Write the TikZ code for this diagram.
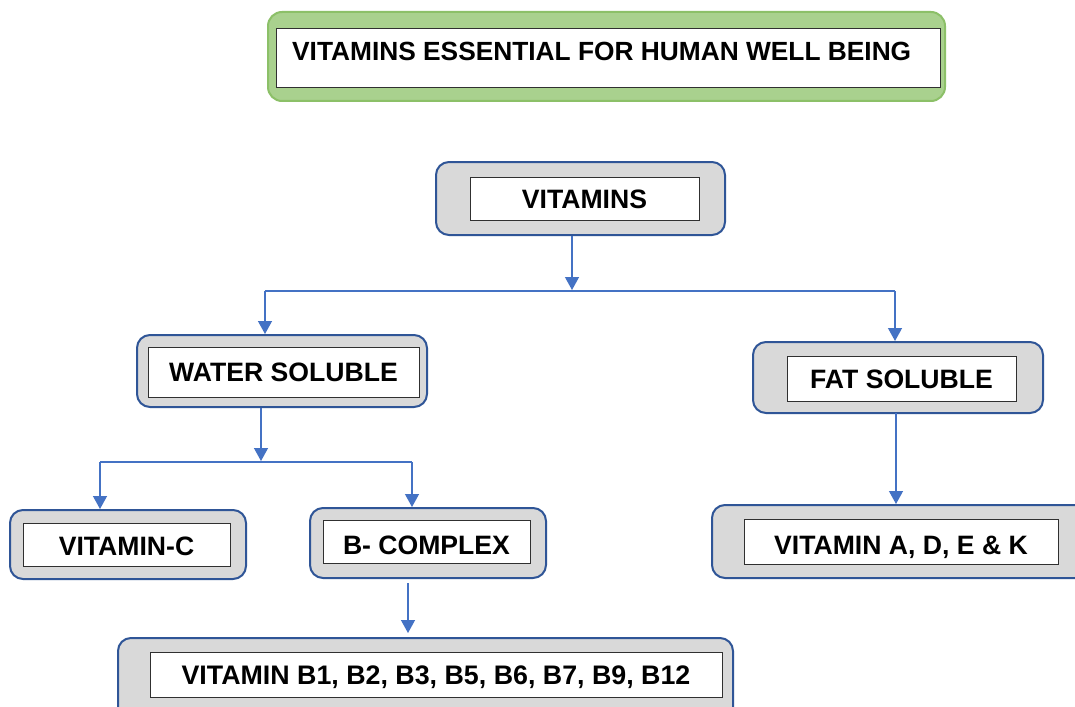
\documentclass[tikz,border=0pt]{standalone}
\usepackage{fontspec}
\setmainfont{Liberation Sans}
\usetikzlibrary{arrows.meta,calc}

\definecolor{boxgray}{HTML}{D9D9D9}
\definecolor{boxblue}{HTML}{2F5597}
\definecolor{linkblue}{HTML}{4472C4}
\definecolor{headgreen}{HTML}{A9D18E}
\definecolor{headedge}{HTML}{8CC068}
\definecolor{inneredge}{HTML}{303030}

\tikzset{
  outerbox/.style={draw=boxblue, line width=2pt, fill=boxgray, rounded corners=13pt, inner sep=0pt},
  headbox/.style={draw=headedge, line width=2pt, fill=headgreen, rounded corners=14pt, inner sep=0pt},
  innerbox/.style={draw=inneredge, line width=1pt, fill=white, inner sep=0pt},
  lbl/.style={font=\fontsize{26.6}{30}\selectfont\bfseries, text=black, text height=19pt, text depth=0pt},
  lowlbl/.style={text height=25pt, text depth=0pt},
  link/.style={draw=linkblue, line width=1.3pt},
  linkarrow/.style={link, -{Triangle[width=14pt,length=13pt]}},
}

\begin{document}
\begin{tikzpicture}[x=1pt,y=-1pt]
\clip (0,0) rectangle (1075,706);
\fill[white] (0,0) rectangle (1075,706);

% heading
\node[headbox, minimum width=677pt, minimum height=89pt] (headO) at (606.5,56.5) {};
\node[innerbox, minimum width=664pt, minimum height=59pt] (headI) at (608,58.5) {};
\node[anchor=base west, inner sep=0pt, font=\fontsize{26.3}{30}\selectfont\bfseries] (headT) at (292,61) {VITAMINS ESSENTIAL FOR HUMAN WELL BEING};

% outer frames
\node[outerbox, minimum width=289pt, minimum height=73pt] (vitO) at (580.5,198.5) {};
\node[outerbox, minimum width=290pt, minimum height=72pt] (watO) at (282,371) {};
\node[outerbox, minimum width=290pt, minimum height=71pt] (fatO) at (898,377.5) {};
\node[outerbox, minimum width=236pt, minimum height=69pt] (vcO) at (128,544.5) {};
\node[outerbox, minimum width=236pt, minimum height=70pt] (bcO) at (428,543) {};
\node[outerbox, minimum width=378pt, minimum height=73pt] (adekO) at (901,541.5) {};
\node[outerbox, minimum width=615pt, minimum height=84pt] (bsO) at (425.5,680) {};

% labelled inner boxes
\node[innerbox, lbl, minimum width=229pt, minimum height=43pt] (vitI) at (584.5,198.5) {VITAMINS};
\node[innerbox, lbl, minimum width=271pt, minimum height=50pt] (watI) at (283.5,372) {WATER SOLUBLE};
\node[innerbox, lbl, minimum width=229pt, minimum height=45pt] (fatI) at (901.5,378.5) {FAT SOLUBLE};
\node[innerbox, lbl, minimum width=207pt, minimum height=43pt, text height=21pt] (vcI) at (126.5,544.5) {VITAMIN-C};
\node[innerbox, lbl, lowlbl, minimum width=207pt, minimum height=43pt] (bcI) at (426.5,541.5) {B- COMPLEX};
\node[innerbox, lbl, lowlbl, minimum width=314pt, minimum height=45pt] (adekI) at (901,541.5) {VITAMIN A, D, E \& K};
\node[innerbox, lbl, minimum width=572pt, minimum height=45pt, font=\fontsize{26.8}{30}\selectfont\bfseries] (bsI) at (436,674.5) {VITAMIN B1, B2, B3, B5, B6, B7, B9, B12};

% branch points
\coordinate (vitHub) at (572,291);
\coordinate (vitL) at (265,291);
\coordinate (vitR) at (895,291);
\coordinate (watHub) at (261,462);
\coordinate (watL) at (100,462);
\coordinate (watR) at (412,462);
\coordinate (bcFoot) at (408,583);
\coordinate (fatLink) at (896,413);

% connectors
\draw[linkarrow] (vitO.south -| vitHub) -- ($(vitHub)+(0,-1)$);
\draw[link] (vitL) -- (vitR);
\draw[linkarrow] (vitL) -- (vitL |- watO.north);
\draw[linkarrow] (vitR) -- (vitR |- fatO.north);

\draw[linkarrow] (watO.south -| watHub) -- ($(watHub)+(0,-1)$);
\draw[link] (watL) -- (watR);
\draw[linkarrow] (watL) -- (watL |- vcO.north);
\draw[linkarrow] (watR) -- (watR |- bcO.north);

\draw[linkarrow] (bcFoot) -- ($(bcFoot |- bsO.north)+(0,-4)$);
\draw[linkarrow] (fatLink) -- (fatLink |- adekO.north);
\end{tikzpicture}
\end{document}
